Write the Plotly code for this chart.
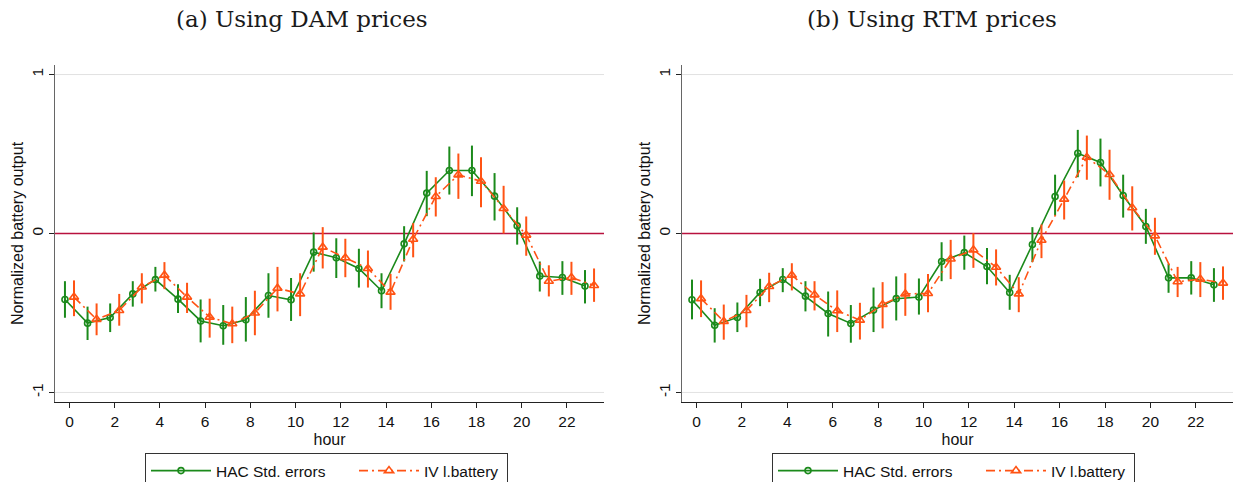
import plotly.graph_objects as go

# Hour of day
hours = list(range(24))

# Day-ahead market prices: HAC estimates and confidence bounds
dam_hac_coef = [-0.415, -0.564, -0.528, -0.38, -0.29, -0.413, -0.55, -0.58, -0.543, -0.39, -0.417, -0.117,
                -0.153, -0.22, -0.36, -0.065, 0.254, 0.396, 0.396, 0.235, 0.048, -0.268, -0.277, -0.331]
dam_hac_lo = [-0.53, -0.67, -0.62, -0.46, -0.365, -0.50, -0.685, -0.70, -0.68, -0.53, -0.55, -0.24,
              -0.28, -0.34, -0.47, -0.176, 0.109, 0.245, 0.235, 0.082, -0.07, -0.365, -0.386, -0.44]
dam_hac_hi = [-0.30, -0.46, -0.44, -0.30, -0.21, -0.32, -0.415, -0.45, -0.40, -0.25, -0.28, 0.006,
              -0.03, -0.096, -0.25, 0.046, 0.394, 0.547, 0.553, 0.38, 0.165, -0.176, -0.174, -0.23]

# Day-ahead market prices: IV estimates and confidence bounds
dam_iv_coef = [-0.40, -0.54, -0.484, -0.337, -0.262, -0.40, -0.526, -0.568, -0.50, -0.344, -0.38, -0.086,
               -0.153, -0.22, -0.369, -0.036, 0.233, 0.369, 0.329, 0.157, -0.01, -0.30, -0.277, -0.327]
dam_iv_lo = [-0.52, -0.64, -0.58, -0.44, -0.35, -0.50, -0.655, -0.69, -0.64, -0.49, -0.52, -0.22,
             -0.275, -0.34, -0.48, -0.15, 0.107, 0.218, 0.165, 0.0, -0.14, -0.396, -0.386, -0.43]
dam_iv_hi = [-0.295, -0.44, -0.38, -0.25, -0.18, -0.31, -0.41, -0.46, -0.36, -0.21, -0.25, 0.04,
             -0.033, -0.107, -0.254, 0.065, 0.354, 0.503, 0.48, 0.30, 0.107, -0.2, -0.178, -0.22]

# Real-time market prices: HAC estimates and confidence bounds
rtm_hac_coef = [-0.417, -0.577, -0.528, -0.371, -0.289, -0.394, -0.503, -0.566, -0.482, -0.41, -0.40, -0.176,
                -0.12, -0.208, -0.371, -0.069, 0.233, 0.505, 0.447, 0.239, 0.044, -0.279, -0.279, -0.323]
rtm_hac_lo = [-0.54, -0.686, -0.62, -0.457, -0.369, -0.49, -0.648, -0.687, -0.62, -0.547, -0.51, -0.30,
              -0.228, -0.32, -0.48, -0.18, 0.113, 0.354, 0.296, 0.10, -0.065, -0.373, -0.384, -0.43]
rtm_hac_hi = [-0.29, -0.47, -0.434, -0.285, -0.218, -0.30, -0.365, -0.45, -0.34, -0.27, -0.283, -0.055,
              -0.013, -0.092, -0.26, 0.04, 0.37, 0.652, 0.597, 0.37, 0.155, -0.19, -0.174, -0.218]

# Real-time market prices: IV estimates and confidence bounds
rtm_iv_coef = [-0.41, -0.553, -0.484, -0.333, -0.262, -0.386, -0.486, -0.545, -0.447, -0.38, -0.377, -0.16,
               -0.103, -0.212, -0.38, -0.042, 0.216, 0.48, 0.371, 0.162, -0.015, -0.304, -0.287, -0.312]
rtm_iv_lo = [-0.526, -0.668, -0.59, -0.432, -0.358, -0.484, -0.62, -0.667, -0.597, -0.518, -0.495, -0.287,
             -0.216, -0.327, -0.495, -0.155, 0.088, 0.338, 0.212, 0.019, -0.134, -0.40, -0.40, -0.417]
rtm_iv_hi = [-0.295, -0.447, -0.386, -0.247, -0.187, -0.30, -0.358, -0.436, -0.306, -0.25, -0.254, -0.04,
             0.002, -0.10, -0.275, 0.057, 0.333, 0.616, 0.527, 0.297, 0.099, -0.21, -0.18, -0.207]

panel_titles = ["(a) Using DAM prices", "(b) Using RTM prices"]
series_names = ["HAC Std. errors", "IV l.battery"]
x_ticks = list(range(0, 24, 2))
y_ticks = [-1, 0, 1]
grid_levels = [-1, 1]
reference_level = 0

GREEN = "#1b8a1b"
ORANGE = "#ff5314"
ZERO_RED = "#b8123f"
GRID = "#e2e2e2"
SANS = "Liberation Sans, Arial, sans-serif"
SERIF = "DejaVu Serif, Liberation Serif, serif"
SHIFT = 0.2

W, H = 1233, 482
left_dom = [55 / W, 604 / W]
right_dom = [682 / W, 1.0]
y_dom = [(H - 402) / H, (H - 65) / H]

fig = go.Figure()


def add_series(xa, ya, coef, lo, hi, name, color, symbol, msize, dash, offset, legend, lwidth):
    fig.add_trace(go.Scatter(
        x=[h + offset for h in hours], y=coef,
        mode="lines+markers", name=name,
        xaxis=xa, yaxis=ya, legend=legend, legendwidth=lwidth,
        line=dict(color=color, width=1.6, dash=dash),
        marker=dict(symbol=symbol, size=msize, color=color,
                    line=dict(color=color, width=1.6)),
        error_y=dict(type="data", symmetric=False,
                     array=[h_ - c for h_, c in zip(hi, coef)],
                     arrayminus=[c - l_ for l_, c in zip(lo, coef)],
                     color=color, thickness=2, width=0),
    ))


dashdot = "9px,4px,2px,4px"
add_series("x", "y", dam_hac_coef, dam_hac_lo, dam_hac_hi, series_names[0], GREEN,
           "circle-open", 6, "solid", -SHIFT, "legend", 133)
add_series("x", "y", dam_iv_coef, dam_iv_lo, dam_iv_hi, series_names[1], ORANGE,
           "triangle-up-open", 8, dashdot, SHIFT, "legend", 78)
add_series("x2", "y2", rtm_hac_coef, rtm_hac_lo, rtm_hac_hi, series_names[0], GREEN,
           "circle-open", 6, "solid", -SHIFT, "legend2", 133)
add_series("x2", "y2", rtm_iv_coef, rtm_iv_lo, rtm_iv_hi, series_names[1], ORANGE,
           "triangle-up-open", 8, dashdot, SHIFT, "legend2", 78)

xaxis_style = dict(range=[-0.64, 23.64], tickvals=x_ticks, ticks="outside", ticklen=5,
                   tickcolor="#222", showline=True, linecolor="#222", linewidth=1,
                   showgrid=False, zeroline=False, automargin=False,
                   tickfont=dict(family=SANS, size=15.5, color="#111"),
                   title=dict(text="hour", font=dict(family=SANS, size=16, color="#111"), standoff=5))
yaxis_style = dict(range=[-1.06, 1.06], tickvals=y_ticks, ticktext=["-1", "0", "1"],
                   tickangle=-90, ticks="outside", ticklen=5, tickcolor="#222",
                   showline=True, linecolor="#666", linewidth=1,
                   showgrid=False, zeroline=False, automargin=False,
                   tickfont=dict(family=SANS, size=15.5, color="#111"),
                   title=dict(text="Normalized battery output",
                              font=dict(family=SANS, size=16, color="#111"), standoff=1))

legend_style = dict(orientation="h", yanchor="top", xanchor="left",
                    bordercolor="#333", borderwidth=1, bgcolor="white",
                    font=dict(family=SANS, size=15.5, color="#111"),
                    itemwidth=60, traceorder="normal")

# Horizontal gridlines and the zero reference line, drawn beneath the data
shapes = []
for xd, yr in (("x domain", "y"), ("x2 domain", "y2")):
    for g in grid_levels:
        shapes.append(dict(type="line", xref=xd, yref=yr, x0=0, x1=1, y0=g, y1=g,
                           line=dict(color=GRID, width=1), layer="below"))
    shapes.append(dict(type="line", xref=xd, yref=yr, x0=0, x1=1,
                       y0=reference_level, y1=reference_level,
                       line=dict(color=ZERO_RED, width=1.6), layer="below"))

fig.update_layout(
    width=W, height=H, margin=dict(l=0, r=0, t=0, b=0, autoexpand=False),
    paper_bgcolor="white", plot_bgcolor="white",
    xaxis=dict(domain=left_dom, anchor="y", **xaxis_style),
    yaxis=dict(domain=y_dom, anchor="x", **yaxis_style),
    xaxis2=dict(domain=right_dom, anchor="y2", **xaxis_style),
    yaxis2=dict(domain=y_dom, anchor="x2", **yaxis_style),
    legend=dict(x=145 / W, y=(H - 453) / H, **legend_style),
    legend2=dict(x=772 / W, y=(H - 453) / H, **legend_style),
    shapes=shapes,
    annotations=[
        dict(text=panel_titles[0], xref="paper", yref="paper", x=302 / W, y=(H - 19) / H,
             showarrow=False, xanchor="center", yanchor="middle",
             font=dict(family=SERIF, size=23, color="#1a1a1a")),
        dict(text=panel_titles[1], xref="paper", yref="paper", x=932 / W, y=(H - 19) / H,
             showarrow=False, xanchor="center", yanchor="middle",
             font=dict(family=SERIF, size=23, color="#1a1a1a")),
    ],
)

fig.write_html("out.html")
